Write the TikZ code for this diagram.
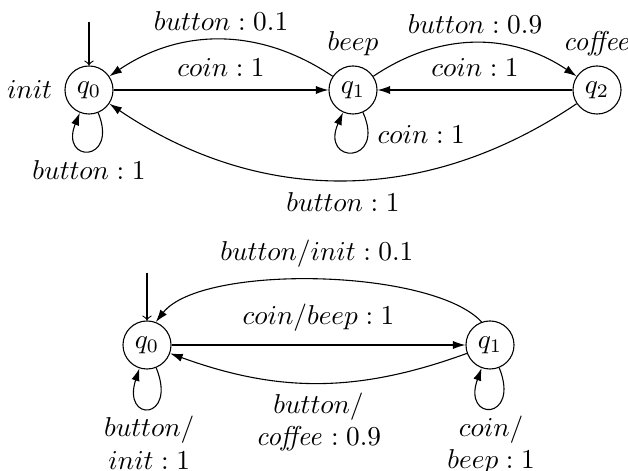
\documentclass[tikz,border=0pt]{standalone}
\usetikzlibrary{arrows.meta,positioning}
\begin{document}
\begin{tikzpicture}[x=0.3663pt,y=-0.3663pt,
  state/.style={circle,draw,minimum size=17.6pt,inner sep=1pt},
  trans/.style={-{Latex[length=4.6pt,width=3pt]}},
  initarr/.style={-to},
  tight/.style={inner sep=2.6pt}]
\useasboundingbox (0,0) rectangle (628,471);

% ---- probabilistic automaton with state outputs ----
\node[state] (a0) at (89,90)  {$q_0$};
\node[state] (a1) at (353,90) {$q_1$};
\node[state] (a2) at (597,90) {$q_2$};
\node[left=1pt of a0]  (oa0) {$init$};
\node[above=0pt of a1] (oa1) {$beep$};
\node[above=0pt of a2] (oa2) {$\mathit{coffee}$};
\coordinate (ia0) at (89,22);
\draw[initarr] (ia0) -- (a0);

\draw[trans] (a0) -- node[above=1.5pt] (t01) {$coin:1$} (a1);
\draw[trans] (a2) -- node[above=1.5pt] (t21) {$coin:1$} (a1);
\draw[trans] (a1) to[bend right=34] node[above=0pt] (t10) {$button:0.1$} (a0);
\draw[trans] (a1) to[bend left=34]  node[above=0pt] (t12) {$button:0.9$} (a2);
\draw[trans] (a2) to[bend left=34]  node[below=1pt] (t20) {$button:1$} (a0);
\draw[trans] (a0.-68) .. controls +(-68:20pt) and +(-112:20pt) .. (a0.-112)
  node[pos=0.5,below=0pt] (t00) {$button:1$};
\draw[trans] (a1.-66) .. controls +(-66:21pt) and +(-114:21pt) .. (a1.-114)
  node[pos=0.17,right] (t11) {$coin:1$};

% ---- Mealy-style automaton ----
\node[state] (b0) at (147,345) {$q_0$};
\node[state] (b1) at (490,345) {$q_1$};
\coordinate (ib0) at (147,273);
\draw[initarr] (ib0) -- (b0);

\draw[trans] (b0) -- node[above=1.5pt] (s01) {$coin/beep:1$} (b1);
\draw[trans] (b1.110) .. controls +(133:27pt) and +(52:27pt) .. (b0.69)
  node[pos=0.5,above=1pt] (s10a) {$button/init:0.1$};
\draw[trans] (b1) to[bend left=20]
  node[below=0pt,align=center] (s10b) {$button/$\\$\mathit{coffee}:0.9$} (b0);
\draw[trans] (b0.-68) .. controls +(-68:21pt) and +(-108:21pt) .. (b0.-108)
  node[pos=0.5,below,tight,align=center] (s00) {$button/$\\$init:1$};
\draw[trans] (b1.-68) .. controls +(-68:21pt) and +(-110:21pt) .. (b1.-110)
  node[pos=0.5,below,tight,align=center] (s11) {$coin/$\\$beep:1$};
\end{tikzpicture}
\end{document}
